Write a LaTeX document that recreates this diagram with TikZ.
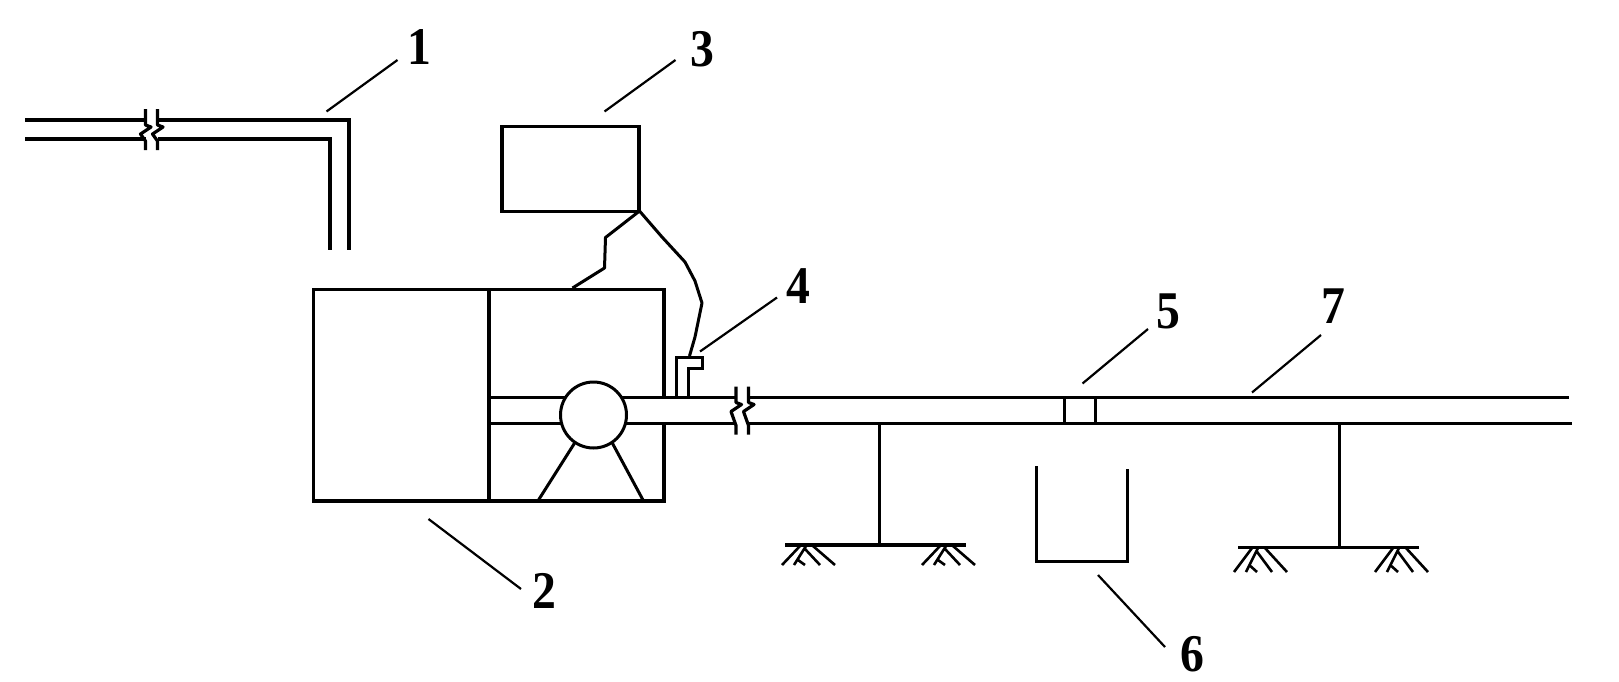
\documentclass[tikz,border=0pt]{standalone}
\usepackage{fontspec}
\setmainfont{Liberation Serif}
\newfontfamily\numfont[FakeStretch=0.9]{Liberation Serif}
\tikzset{
  heavy/.style={line width=3.2pt,line cap=butt,line join=miter},
  thin line/.style={line width=3pt,line join=round},
  leader/.style={line width=2.2pt},
  numeral/.style={font=\numfont\bfseries\fontsize{53}{53}\selectfont,inner sep=0pt,text=black},
}
\newcommand{\pipebreak}[3]{% x of break line, y of first pipe line, y of second pipe line
  \draw[heavy,line join=round] (#1,#2-11) -- (#1,#2+5) -- (#1+5.5,#2+7) -- (#1-5,#2+14) -- (#1,#3+2) -- (#1,#3+11);
}
\newcommand{\groundhatch}[3]{% left x, top y, height
  \draw[line width=2.6pt] (#1+18,#2) -- (#1,#2+#3)
    (#1+24,#2) -- (#1+12,#2+#3)
    (#1+15,#2+#3*.7) -- (#1+23,#2+#3)
    (#1+22,#2+#3*.1) -- (#1+38,#2+#3)
    (#1+31,#2) -- (#1+53,#2+#3);
}
\begin{document}
\begin{tikzpicture}[x=1pt,y=-1pt]
\useasboundingbox (0,0) rectangle (1619,681);

% inlet pipe 1
\coordinate (p1a) at (25,120);
\coordinate (p1b) at (349,120);
\coordinate (p1c) at (349,250);
\coordinate (p2a) at (25,139);
\coordinate (p2b) at (330,139);
\coordinate (p2c) at (330,250);
\draw[heavy] (p1a) -- (146,120) (157.5,120) -- (p1b) -- (p1c);
\draw[heavy] (p2a) -- (146,139) (157.5,139) -- (p2b) -- (p2c);
\pipebreak{145.5}{120}{139}
\pipebreak{157.5}{120}{139}

% control box 3
\node[draw,heavy,rectangle,outer sep=0pt,minimum width=137pt,minimum height=85pt,inner sep=0pt,anchor=north west] (ctrl) at (502,126.5) {};

% tank 2: right wall open where the pipe passes
\draw[heavy] (664,397.5) -- (664,289.5) -- (313.5,289.5) -- (313.5,501) -- (664,501) -- (664,423.5);
\draw[heavy] (489,289.5) -- (489,501);

% main pipe
\draw[heavy] (489,397.5) -- (565.5,397.5) (621.5,397.5) -- (736,397.5) (748.5,397.5) -- (1569,397.5);
\draw[heavy] (489,423.5) -- (561.5,423.5) (625.5,423.5) -- (736,423.5) (748.5,423.5) -- (1572,423.5);
\pipebreak{736}{397.5}{423.5}
\pipebreak{748.5}{397.5}{423.5}

% pump
\node[draw,thin line,circle,outer sep=0pt,minimum size=66pt,inner sep=0pt] (pump) at (593.5,415) {};
\coordinate (legL) at (538.5,500);
\coordinate (legR) at (643,500);
\draw[thin line] (pump.236) -- (legL);
\draw[thin line] (pump.304) -- (legR);

% sensor 4
\coordinate (s0) at (676,397);
\coordinate (s1) at (676,357);
\coordinate (s2) at (702.5,357);
\coordinate (s3) at (702.5,368.5);
\coordinate (s4) at (688.5,368.5);
\coordinate (s5) at (688.5,397);
\draw[thin line,line join=miter] (s0) -- (s1) -- (s2) -- (s3) -- (s4) -- (s5);

% signal wires
\coordinate (wire) at (639.5,211);
\draw[thin line] (wire) -- (605.5,237.5) -- (604.5,268) -- (572.5,288);
\draw[thin line] (wire) -- (662,237) -- (685,262) -- (695,281) -- (702,303) -- (695,337) -- (689.5,356);

% flange 5
\draw[thin line] (1064.5,397.5) -- (1064.5,423.5) (1095.5,397.5) -- (1095.5,423.5);

% supports
\draw[thin line] (879,423.5) -- (879,545);
\draw[heavy] (785,545) -- (965.5,545);
\groundhatch{782}{546}{19}
\groundhatch{922}{546}{19}
\draw[thin line] (1339,423.5) -- (1339,547.5);
\draw[heavy] (1238,547.5) -- (1418.5,547.5);
\groundhatch{1234}{548}{24}
\groundhatch{1375}{548}{24}

% collector 6
\draw[thin line,line join=miter] (1036,466) -- (1036,561) -- (1127,561) -- (1127,468.5);

% numbers and leaders
\node[numeral] (n1) at (419,47.5) {1};
\node[numeral] (n2) at (544,591) {2};
\node[numeral] (n3) at (702,49.5) {3};
\node[numeral] (n4) at (798,286) {4};
\node[numeral] (n5) at (1168,311) {5};
\node[numeral] (n6) at (1192,654) {6};
\node[numeral] (n7) at (1333,306) {7};
\coordinate (l1) at (326.5,111.5);
\coordinate (l2) at (428.5,519);
\coordinate (l3) at (604.5,111.5);
\coordinate (l4) at (700,351.5);
\coordinate (l5) at (1082.5,383.5);
\coordinate (l6) at (1098,575);
\coordinate (l7) at (1252,392.5);
\draw[leader] (l1) -- (397.5,60);
\draw[leader] (l2) -- (521,589);
\draw[leader] (l3) -- (675.5,60);
\draw[leader] (l4) -- (777,297.5);
\draw[leader] (l5) -- (1148,329);
\draw[leader] (l6) -- (1165,647);
\draw[leader] (l7) -- (1321,335);
\end{tikzpicture}
\end{document}
